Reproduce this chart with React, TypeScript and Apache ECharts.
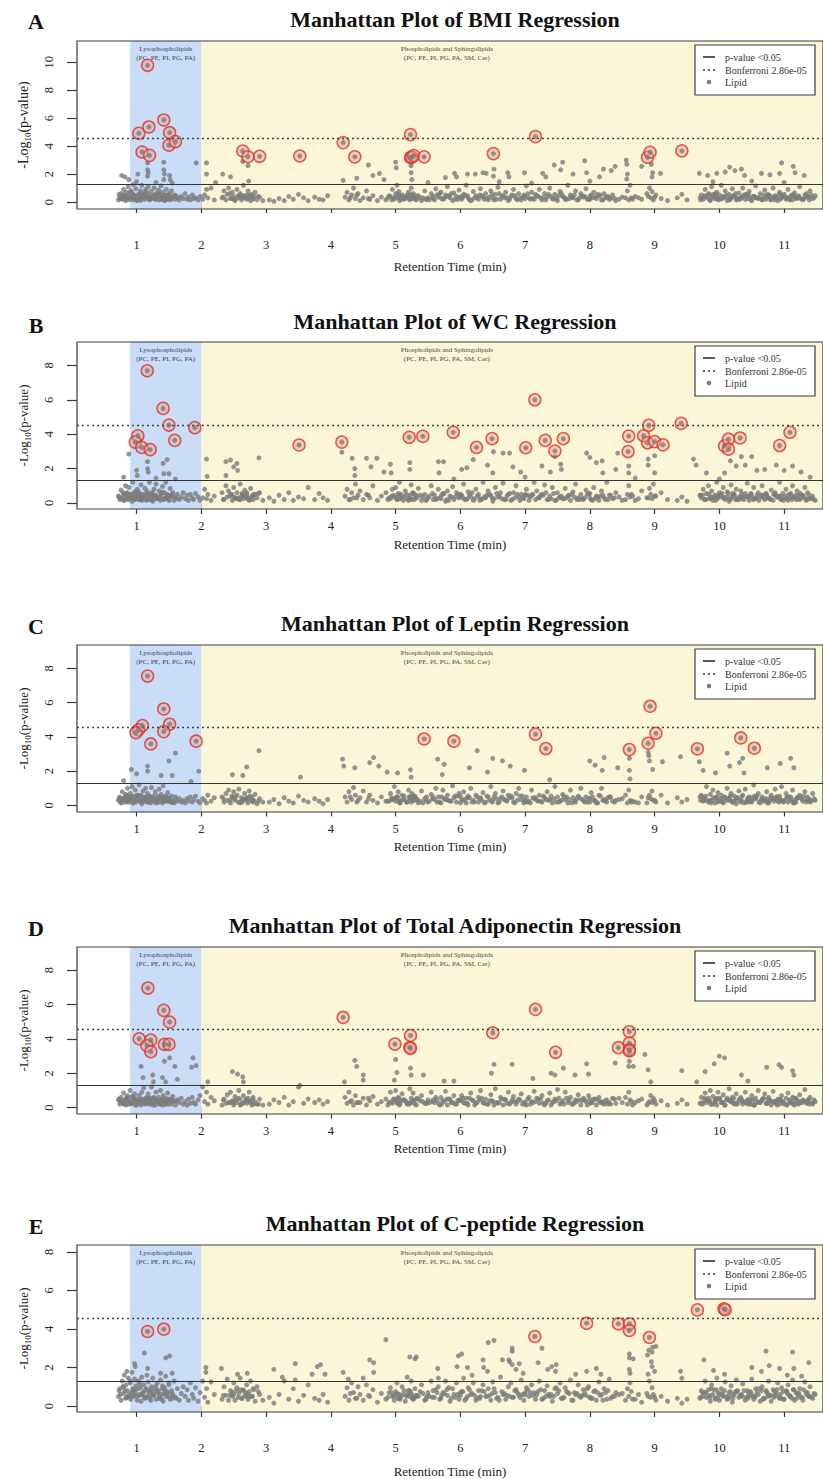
import React, { useEffect, useRef } from "react";
import * as echarts from "echarts";

// ---------- DATA ----------
const panelLetters = ["A", "B", "C", "D", "E"];
const panelTitles = [
  "Manhattan Plot of BMI Regression",
  "Manhattan Plot of WC Regression",
  "Manhattan Plot of Leptin Regression",
  "Manhattan Plot of Total Adiponectin Regression",
  "Manhattan Plot of C-peptide Regression",
];
const xTickValues = [1, 2, 3, 4, 5, 6, 7, 8, 9, 10, 11];
const yTickSets = [
  [0, 2, 4, 6, 8, 10],
  [0, 2, 4, 6, 8],
  [0, 2, 4, 6, 8],
  [0, 2, 4, 6, 8],
  [0, 2, 4, 6, 8],
];
const lysoRange = [0.9, 2.0];
const phosphoRange = [2.0, 11.6];
const pValueThreshold = 0.05;
const bonferroniThreshold = 2.86e-5;

// retention times (min) of the non-significant lipids in the dense low band
const retentionTimeLow = [
  0.72, 0.74, 0.76, 0.78, 0.8, 0.81, 0.83, 0.84, 0.86, 0.87,
  0.88, 0.9, 0.91, 0.93, 0.94, 0.95, 0.97, 0.98, 0.99, 1.01,
  1.03, 1.04, 1.06, 1.07, 1.08, 1.1, 1.11, 1.13, 1.14, 1.16,
  1.17, 1.18, 1.2, 1.22, 1.23, 1.25, 1.27, 1.29, 1.3, 1.32,
  1.34, 1.35, 1.37, 1.38, 1.4, 1.41, 1.43, 1.45, 1.46, 1.48,
  1.5, 1.52, 1.54, 1.56, 1.58, 1.6, 1.63, 1.66, 1.69, 1.72,
  1.75, 1.78, 1.8, 1.83, 1.86, 1.88, 1.91, 1.95, 1.98, 2.02,
  2.05, 2.08, 2.1, 2.15, 2.2, 2.32, 2.35, 2.38, 2.4, 2.42,
  2.45, 2.48, 2.5, 2.52, 2.55, 2.58, 2.6, 2.62, 2.65, 2.67,
  2.7, 2.72, 2.74, 2.76, 2.78, 2.8, 2.83, 2.86, 2.9, 2.95,
  3.05, 3.12, 3.2, 3.28, 3.35, 3.42, 3.5, 3.58, 3.65, 3.75,
  3.82, 3.88, 3.95, 4.22, 4.25, 4.28, 4.32, 4.35, 4.38, 4.42,
  4.45, 4.5, 4.55, 4.6, 4.65, 4.72, 4.78, 4.85, 4.92, 4.95,
  4.98, 5.0, 5.02, 5.04, 5.06, 5.1, 5.15, 5.2, 5.22, 5.24,
  5.25, 5.27, 5.3, 5.35, 5.4, 5.45, 5.5, 5.55, 5.6, 5.62,
  5.66, 5.7, 5.73, 5.77, 5.8, 5.84, 5.88, 5.9, 5.94, 5.98,
  6.02, 6.05, 6.09, 6.12, 6.16, 6.2, 6.24, 6.28, 6.31, 6.35,
  6.39, 6.43, 6.47, 6.5, 6.54, 6.58, 6.62, 6.66, 6.7, 6.74,
  6.78, 6.82, 6.86, 6.9, 6.94, 6.98, 7.02, 7.06, 7.1, 7.14,
  7.18, 7.22, 7.26, 7.3, 7.34, 7.38, 7.42, 7.46, 7.5, 7.54,
  7.58, 7.62, 7.66, 7.7, 7.74, 7.78, 7.82, 7.86, 7.9, 7.94,
  7.98, 8.02, 8.06, 8.1, 8.14, 8.18, 8.22, 8.26, 8.3, 8.35,
  8.4, 8.55, 8.58, 8.6, 8.62, 8.7, 8.8, 8.88, 8.92, 8.94,
  8.96, 8.98, 9.02, 9.1, 9.2, 9.35, 9.42, 9.5, 9.72, 9.75,
  9.78, 9.8, 9.83, 9.86, 9.88, 9.9, 9.93, 9.96, 9.98, 10.0,
  10.03, 10.06, 10.09, 10.12, 10.15, 10.18, 10.2, 10.23, 10.26, 10.3,
  10.33, 10.36, 10.4, 10.43, 10.46, 10.5, 10.53, 10.56, 10.6, 10.63,
  10.66, 10.7, 10.73, 10.76, 10.8, 10.83, 10.86, 10.9, 10.93, 10.96,
  11.0, 11.03, 11.06, 11.1, 11.13, 11.16, 11.2, 11.24, 11.28, 11.32,
  11.36, 11.4, 11.44, 11.48, 0.73, 0.79, 0.85, 0.92, 0.96, 1.02,
  1.09, 1.15, 1.21, 1.26, 1.33, 1.39, 1.44, 1.49, 1.55, 1.61,
  2.44, 2.53, 2.63, 2.69, 2.75, 2.81, 5.01, 5.05, 5.23, 5.28,
  9.74, 9.85, 9.95, 10.05, 10.14, 10.25, 10.35, 10.45, 10.55, 10.65,
  10.75, 10.85, 10.95, 11.05, 11.15, 11.25, 11.35, 6.0, 7.0, 8.0,
  5.57, 5.64, 5.71, 5.79, 5.86, 5.96, 6.04, 6.11, 6.18, 6.26,
  6.33, 6.41, 6.49, 6.56, 6.64, 6.72, 6.8, 6.88, 6.96, 7.04,
  7.12, 7.2, 7.28, 7.36, 7.44, 7.52, 7.6, 7.68, 7.76, 7.84,
  7.92, 8.0, 8.08, 8.16, 8.24, 8.32, 8.45, 8.64, 8.9, 9.0,
  9.7, 9.77, 9.84, 9.91, 9.97, 10.04, 10.11, 10.17, 10.22, 10.28,
  10.34, 10.41, 10.48, 10.52, 10.58, 10.68, 10.72, 10.78, 10.88, 10.92,
  10.98, 11.08, 11.12, 11.18, 11.22, 11.3, 11.38, 11.42, 11.46, 0.82,
  0.89, 0.97, 1.05, 1.12, 1.19, 1.24, 1.31, 1.36, 1.42, 1.47,
  2.34, 2.47, 2.57, 2.64, 2.71, 2.79, 2.88, 4.3, 4.4, 4.58,
  4.9, 4.97, 5.03, 5.08, 5.13, 5.18, 5.26, 5.33, 5.38, 5.48,
  0.75, 0.8, 0.85, 0.9, 0.95, 1.0, 1.05, 1.1, 1.15, 1.2,
  1.25, 1.3, 1.35, 1.4, 1.45, 1.5, 1.55, 2.5, 2.6, 2.7,
  5.52, 5.58, 5.68, 5.75, 5.82, 5.92, 6.0, 6.07, 6.14, 6.22,
  6.3, 6.37, 6.45, 6.52, 6.6, 6.68, 6.76, 6.84, 6.92, 7.0,
  7.08, 7.16, 7.24, 7.32, 7.4, 7.48, 7.56, 7.64, 7.72, 7.8,
  7.88, 7.96, 8.04, 8.12, 8.2, 8.28, 8.38, 8.5, 8.66, 8.75,
  9.71, 9.79, 9.87, 9.94, 10.01, 10.08, 10.16, 10.21, 10.27, 10.32,
  10.38, 10.44, 10.49, 10.54, 10.61, 10.67, 10.74, 10.79, 10.84, 10.89,
  10.94, 10.99, 11.04, 11.09, 11.14, 11.19, 11.23, 11.29, 11.34, 11.39,
  4.88, 4.94, 5.07, 5.12, 5.17, 5.21, 5.29, 5.32, 5.42, 5.47,
];

// -log10(p) of those lipids, one list per regression
const bmiLow = [
  0.15, 0.35, 0.6, 0.2, 0.9, 0.45, 0.1, 0.7, 0.3, 1.1,
  0.5, 0.15, 0.8, 0.35, 0.6, 1.25, 0.2, 0.45, 0.95, 0.1,
  0.55, 0.25, 0.8, 0.12, 1.2, 0.4, 0.65, 0.2, 0.9, 0.35,
  0.55, 1.1, 0.15, 0.75, 0.3, 0.5, 1.0, 0.2, 0.6, 0.35,
  0.85, 0.15, 0.5, 1.15, 0.3, 0.7, 0.1, 0.45, 0.9, 0.25,
  0.6, 0.15, 0.8, 0.35, 0.5, 0.2, 0.3, 0.15, 0.4, 0.25,
  0.6, 0.2, 0.35, 0.15, 0.5, 0.25, 0.3, 0.15, 0.4, 0.2,
  0.5, 0.9, 0.3, 1.0, 0.15, 0.3, 0.8, 0.15, 0.55, 1.0,
  0.25, 0.7, 0.4, 0.1, 0.9, 0.3, 0.6, 0.15, 1.2, 0.45,
  0.2, 0.8, 0.35, 0.1, 0.55, 0.25, 0.7, 0.15, 0.35, 0.1,
  0.15, 0.05, 0.25, 0.1, 0.4, 0.2, 0.55, 0.3, 0.1, 0.35,
  0.2, 0.15, 0.45, 0.35, 0.7, 0.15, 0.5, 1.0, 0.25, 0.6,
  0.1, 0.3, 0.8, 0.2, 0.45, 0.1, 0.35, 0.15, 0.4, 0.9,
  0.2, 0.6, 1.2, 0.3, 0.1, 0.5, 0.25, 0.7, 0.15, 1.0,
  0.4, 0.6, 0.2, 0.45, 0.1, 0.8, 0.3, 0.6, 0.15, 0.95,
  0.35, 0.7, 0.2, 0.5, 1.1, 0.3, 0.1, 0.65, 0.4, 0.85,
  0.2, 0.55, 1.2, 0.3, 0.1, 0.75, 0.45, 0.2, 0.95, 0.35,
  0.6, 0.15, 0.8, 0.3, 0.55, 1.05, 0.2, 0.45, 0.7, 0.1,
  0.4, 0.9, 0.25, 0.6, 0.15, 0.5, 1.15, 0.3, 0.7, 0.2,
  0.45, 0.9, 0.15, 0.6, 0.35, 1.0, 0.25, 0.55, 0.1, 0.75,
  0.4, 0.2, 1.2, 0.5, 0.3, 0.8, 0.15, 0.6, 0.35, 0.95,
  0.2, 0.5, 0.7, 0.25, 0.45, 0.15, 0.6, 0.35, 0.2, 0.5,
  0.1, 0.3, 0.8, 0.15, 1.2, 0.4, 0.2, 0.6, 1.0, 0.3,
  0.75, 0.15, 0.5, 0.25, 0.1, 0.3, 0.55, 0.15, 0.5, 0.2,
  0.9, 0.35, 0.6, 0.1, 1.1, 0.45, 0.25, 0.7, 0.15, 0.5,
  1.2, 0.3, 0.8, 0.1, 0.55, 0.25, 0.95, 0.4, 0.15, 0.65,
  0.3, 1.0, 0.2, 0.5, 0.75, 0.1, 0.4, 1.15, 0.25, 0.6,
  0.15, 0.85, 0.35, 0.5, 0.2, 1.0, 0.45, 0.1, 0.7, 0.3,
  0.55, 0.2, 0.9, 0.4, 0.15, 0.65, 0.3, 1.1, 0.2, 0.5,
  0.35, 0.8, 0.25, 0.45, 0.55, 0.25, 0.4, 0.7, 0.15, 0.3,
  0.45, 0.7, 0.25, 0.35, 0.6, 0.2, 0.5, 0.3, 0.25, 0.45,
  0.6, 0.2, 0.45, 0.3, 0.5, 0.4, 0.35, 0.75, 0.5, 0.3,
  0.3, 0.55, 0.25, 0.4, 0.2, 0.6, 0.35, 0.5, 0.3, 0.2,
  0.4, 0.15, 0.55, 0.3, 0.45, 0.25, 0.6, 0.35, 0.25, 0.4,
  0.3, 0.5, 0.25, 0.4, 0.6, 0.2, 0.35, 0.45, 0.15, 0.3,
  0.45, 0.25, 0.55, 0.2, 0.4, 0.3, 0.5, 0.15, 0.35, 0.6,
  0.25, 0.4, 0.3, 0.55, 0.2, 0.45, 0.35, 0.25, 0.5, 0.3,
  0.4, 0.2, 0.35, 0.5, 0.3, 0.25, 0.2, 0.3, 0.4, 0.35,
  0.3, 0.45, 0.2, 0.55, 0.35, 0.25, 0.5, 0.3, 0.4, 0.2,
  0.35, 0.55, 0.25, 0.4, 0.3, 0.5, 0.2, 0.45, 0.3, 0.55,
  0.4, 0.25, 0.5, 0.3, 0.45, 0.2, 0.35, 0.5, 0.3, 0.4,
  0.3, 0.45, 0.2, 0.55, 0.35, 0.25, 0.5, 0.4, 0.3, 0.2,
  0.35, 0.25, 0.45, 0.3, 0.5, 0.2, 0.4, 0.3, 0.5, 0.25,
  0.45, 0.3, 0.55, 0.2, 0.35, 0.5, 0.25, 0.4, 0.3, 0.2,
  0.25, 0.5, 0.2, 0.7, 0.35, 0.15, 0.6, 0.3, 0.45, 0.2,
  0.4, 0.2, 0.65, 0.3, 0.15, 0.5, 0.3, 0.2, 0.45, 0.3,
  0.15, 0.4, 0.6, 0.25, 0.45, 0.2, 0.35, 0.5, 0.15, 0.3,
  0.5, 0.2, 0.35, 0.15, 0.6, 0.3, 0.2, 0.45, 0.25, 0.4,
  0.2, 0.55, 0.3, 0.15, 0.4, 0.25, 0.6, 0.2, 0.35, 0.15,
  0.45, 0.2, 0.3, 0.55, 0.15, 0.4, 0.25, 0.35, 0.2, 0.3,
  0.15, 0.4, 0.25, 0.6, 0.2, 0.35, 0.15, 0.45, 0.3, 0.2,
  0.5, 0.25, 0.15, 0.4, 0.3, 0.2, 0.55, 0.15, 0.35, 0.25,
  0.2, 0.45, 0.3, 0.15, 0.5, 0.25, 0.35, 0.2, 0.4, 0.15,
  0.3, 0.15, 0.45, 0.2, 0.35, 0.25, 0.5, 0.15, 0.3, 0.2,
];
const wcLow = [
  0.4, 0.2, 0.75, 0.3, 0.55, 0.15, 1.0, 0.35, 0.6, 0.2,
  0.9, 0.3, 0.5, 0.1, 1.2, 0.4, 0.65, 0.25, 0.45, 0.8,
  0.2, 0.6, 0.35, 1.05, 0.15, 0.5, 0.3, 0.85, 0.25, 0.7,
  0.45, 0.2, 1.2, 0.35, 0.6, 0.1, 0.8, 0.4, 1.1, 0.25,
  0.3, 0.7, 0.15, 0.5, 0.95, 0.25, 0.6, 1.2, 0.35, 0.45,
  0.2, 0.85, 0.4, 0.6, 0.15, 0.3, 0.5, 0.2, 0.35, 0.6,
  0.25, 0.45, 0.15, 0.5, 0.3, 0.2, 0.55, 0.35, 0.15, 0.3,
  0.8, 0.25, 0.5, 0.15, 0.4, 0.6, 0.2, 1.0, 0.35, 0.7,
  0.5, 0.15, 0.9, 0.3, 0.6, 0.2, 1.1, 0.4, 0.25, 0.75,
  0.6, 0.3, 0.15, 0.85, 0.4, 0.2, 0.5, 0.3, 0.6, 0.15,
  0.3, 0.1, 0.45, 0.2, 0.6, 0.15, 0.35, 0.25, 0.9, 0.2,
  0.55, 0.3, 0.15, 0.4, 0.8, 0.2, 0.6, 0.3, 1.1, 0.45,
  0.7, 0.2, 0.5, 0.3, 1.0, 0.15, 0.4, 0.6, 0.25, 0.8,
  0.35, 0.9, 0.2, 0.55, 1.2, 0.3, 0.7, 0.15, 0.45, 1.05,
  0.2, 0.6, 0.35, 0.85, 0.15, 0.5, 0.3, 1.0, 0.45, 0.2,
  0.8, 0.25, 0.55, 0.1, 0.7, 0.4, 0.95, 0.2, 0.6, 0.3,
  0.45, 1.1, 0.2, 0.65, 0.35, 0.15, 0.8, 0.5, 0.25, 1.2,
  0.3, 0.7, 0.45, 0.1, 0.9, 0.35, 0.6, 1.15, 0.2, 0.5,
  0.15, 0.6, 1.0, 0.35, 0.5, 0.25, 0.8, 0.15, 0.45, 1.2,
  0.7, 0.3, 0.5, 1.05, 0.2, 0.4, 0.9, 0.15, 0.6, 0.35,
  0.25, 0.85, 0.4, 0.15, 0.65, 1.1, 0.3, 0.5, 0.2, 0.75,
  0.55, 0.2, 0.9, 0.4, 0.15, 0.7, 0.3, 1.2, 0.45, 0.25,
  0.6, 0.2, 0.5, 1.0, 0.35, 0.15, 0.7, 0.3, 0.85, 0.5,
  0.25, 1.1, 0.4, 0.6, 0.2, 0.15, 0.35, 0.1, 0.3, 0.8,
  0.2, 0.55, 1.0, 0.3, 0.7, 0.15, 0.45, 1.2, 0.35, 0.6,
  0.4, 0.9, 0.2, 0.65, 0.1, 1.05, 0.35, 0.5, 0.8, 0.2,
  0.7, 0.3, 0.55, 1.15, 0.15, 0.4, 0.9, 0.25, 0.6, 0.35,
  1.0, 0.2, 0.5, 0.3, 0.75, 0.15, 0.6, 0.4, 1.2, 0.25,
  0.35, 0.8, 0.15, 0.55, 1.0, 0.3, 0.7, 0.2, 0.45, 0.9,
  0.6, 0.25, 0.4, 0.15, 0.35, 0.6, 0.25, 0.5, 0.3, 0.45,
  0.35, 0.55, 0.2, 0.45, 0.3, 0.6, 0.25, 0.4, 0.5, 0.3,
  0.4, 0.25, 0.55, 0.35, 0.2, 0.5, 0.3, 0.45, 0.25, 0.55,
  0.45, 0.25, 0.4, 0.3, 0.55, 0.2, 0.5, 0.35, 0.25, 0.45,
  0.3, 0.5, 0.2, 0.45, 0.35, 0.55, 0.25, 0.4, 0.5, 0.3,
  0.55, 0.25, 0.45, 0.2, 0.35, 0.5, 0.3, 0.25, 0.6, 0.4,
  0.2, 0.45, 0.3, 0.55, 0.25, 0.4, 0.2, 0.5, 0.3, 0.45,
  0.5, 0.3, 0.45, 0.2, 0.55, 0.3, 0.25, 0.45, 0.35, 0.2,
  0.3, 0.55, 0.25, 0.4, 0.2, 0.45, 0.35, 0.5, 0.3, 0.4,
  0.45, 0.2, 0.5, 0.3, 0.25, 0.55, 0.35, 0.2, 0.45, 0.3,
  0.25, 0.4, 0.5, 0.2, 0.45, 0.3, 0.55, 0.25, 0.4, 0.35,
  0.55, 0.3, 0.2, 0.45, 0.25, 0.4, 0.5, 0.3, 0.2, 0.45,
  0.4, 0.2, 0.5, 0.3, 0.45, 0.55, 0.25, 0.35, 0.2, 0.5,
  0.2, 0.5, 0.3, 0.45, 0.25, 0.4, 0.55, 0.2, 0.3, 0.45,
  0.3, 0.45, 0.2, 0.5, 0.4, 0.25, 0.55, 0.3, 0.45, 0.2,
  0.3, 0.15, 0.55, 0.25, 0.4, 0.65, 0.2, 0.35, 0.15, 0.5,
  0.2, 0.45, 0.3, 0.6, 0.25, 0.15, 0.4, 0.35, 0.2, 0.5,
  0.4, 0.2, 0.3, 0.55, 0.15, 0.35, 0.5, 0.2, 0.45, 0.25,
  0.15, 0.35, 0.5, 0.25, 0.4, 0.2, 0.55, 0.3, 0.15, 0.45,
  0.35, 0.2, 0.45, 0.6, 0.25, 0.15, 0.4, 0.3, 0.5, 0.2,
  0.25, 0.5, 0.15, 0.35, 0.45, 0.2, 0.3, 0.15, 0.4, 0.25,
  0.45, 0.2, 0.35, 0.15, 0.5, 0.3, 0.25, 0.55, 0.2, 0.4,
  0.2, 0.35, 0.55, 0.25, 0.15, 0.45, 0.3, 0.2, 0.5, 0.35,
  0.4, 0.15, 0.25, 0.5, 0.35, 0.2, 0.45, 0.3, 0.15, 0.25,
  0.2, 0.4, 0.25, 0.15, 0.5, 0.3, 0.2, 0.45, 0.35, 0.15,
];
const leptinLow = [
  0.3, 0.5, 0.15, 0.8, 0.4, 0.2, 0.65, 0.3, 1.0, 0.45,
  0.2, 0.7, 0.35, 1.1, 0.15, 0.55, 0.3, 0.9, 0.2, 0.6,
  0.4, 1.2, 0.25, 0.6, 0.1, 0.85, 0.35, 0.5, 1.0, 0.2,
  0.7, 0.3, 0.5, 0.15, 1.05, 0.4, 0.25, 0.8, 0.35, 0.55,
  0.2, 0.95, 0.4, 0.65, 0.15, 1.15, 0.3, 0.5, 0.25, 0.75,
  0.4, 0.2, 0.55, 0.3, 0.15, 0.5, 0.25, 0.4, 0.2, 0.3,
  0.15, 0.4, 0.25, 0.5, 0.2, 0.35, 0.55, 0.25, 0.15, 0.4,
  0.3, 0.15, 0.6, 0.25, 0.45, 0.5, 0.2, 0.7, 0.3, 0.9,
  0.15, 0.5, 0.8, 0.3, 0.6, 0.95, 0.2, 0.45, 0.35, 0.7,
  0.4, 0.15, 0.85, 0.3, 0.5, 0.2, 0.65, 0.1, 0.4, 0.2,
  0.2, 0.35, 0.1, 0.45, 0.25, 0.15, 0.55, 0.3, 0.2, 0.4,
  0.25, 0.1, 0.35, 0.5, 0.2, 0.8, 0.35, 1.05, 0.6, 0.3,
  0.45, 0.85, 0.2, 0.6, 0.3, 0.15, 0.5, 0.25, 0.7, 0.35,
  1.1, 0.25, 0.5, 0.8, 0.15, 0.6, 0.3, 0.9, 0.45, 0.2,
  0.7, 0.3, 0.55, 0.15, 0.85, 0.4, 0.2, 0.65, 0.35, 1.0,
  0.5, 0.15, 0.9, 0.35, 0.6, 0.25, 1.15, 0.45, 0.2, 0.7,
  0.35, 0.8, 0.15, 0.55, 1.0, 0.3, 0.6, 0.2, 0.45, 0.75,
  0.2, 0.5, 1.1, 0.3, 0.7, 0.15, 0.4, 0.85, 0.3, 0.6,
  0.55, 0.2, 0.7, 1.0, 0.35, 0.15, 0.5, 0.25, 0.9, 0.4,
  0.3, 0.6, 0.2, 0.45, 0.8, 0.35, 0.15, 1.1, 0.5, 0.25,
  0.65, 0.35, 0.15, 0.9, 0.45, 0.2, 0.55, 1.0, 0.3, 0.5,
  0.4, 0.75, 0.3, 0.15, 0.6, 1.0, 0.35, 0.2, 0.5, 0.25,
  0.3, 0.6, 0.15, 0.9, 0.3, 0.2, 0.5, 0.15, 0.6, 0.4,
  0.85, 0.3, 0.2, 0.6, 0.15, 0.45, 0.2, 0.35, 0.6, 0.25,
  0.4, 1.1, 0.2, 0.65, 0.3, 0.9, 0.15, 0.5, 0.75, 0.35,
  0.6, 0.15, 0.45, 1.0, 0.3, 0.7, 0.2, 0.55, 0.1, 0.85,
  0.2, 0.6, 0.95, 0.35, 0.5, 0.2, 1.2, 0.4, 0.7, 0.15,
  0.5, 0.3, 0.8, 0.15, 0.6, 0.4, 0.95, 0.25, 0.55, 1.1,
  0.3, 0.7, 0.2, 0.5, 0.9, 0.15, 0.45, 0.6, 0.35, 0.8,
  0.5, 0.2, 0.7, 0.3, 0.4, 0.35, 0.2, 0.55, 0.3, 0.6,
  0.25, 0.45, 0.35, 0.55, 0.2, 0.5, 0.3, 0.45, 0.2, 0.35,
  0.3, 0.5, 0.2, 0.4, 0.55, 0.3, 0.45, 0.25, 0.4, 0.55,
  0.5, 0.3, 0.45, 0.2, 0.4, 0.3, 0.55, 0.2, 0.45, 0.35,
  0.25, 0.4, 0.3, 0.5, 0.2, 0.45, 0.35, 0.55, 0.3, 0.2,
  0.4, 0.2, 0.5, 0.35, 0.25, 0.55, 0.3, 0.45, 0.2, 0.5,
  0.3, 0.55, 0.2, 0.4, 0.5, 0.25, 0.45, 0.3, 0.55, 0.2,
  0.45, 0.25, 0.55, 0.3, 0.4, 0.2, 0.5, 0.35, 0.25, 0.45,
  0.2, 0.4, 0.3, 0.55, 0.25, 0.5, 0.35, 0.2, 0.45, 0.3,
  0.5, 0.3, 0.25, 0.45, 0.2, 0.4, 0.3, 0.55, 0.25, 0.45,
  0.3, 0.2, 0.45, 0.35, 0.55, 0.25, 0.4, 0.3, 0.5, 0.2,
  0.25, 0.5, 0.35, 0.2, 0.45, 0.55, 0.3, 0.25, 0.4, 0.5,
  0.45, 0.3, 0.55, 0.25, 0.2, 0.4, 0.35, 0.5, 0.3, 0.25,
  0.4, 0.55, 0.2, 0.35, 0.45, 0.3, 0.25, 0.5, 0.2, 0.4,
  0.25, 0.35, 0.5, 0.3, 0.55, 0.2, 0.45, 0.35, 0.25, 0.5,
  0.2, 0.4, 0.6, 0.3, 0.15, 0.5, 0.25, 0.45, 0.35, 0.55,
  0.35, 0.15, 0.4, 0.25, 0.55, 0.3, 0.2, 0.4, 0.15, 0.3,
  0.25, 0.5, 0.2, 0.4, 0.3, 0.55, 0.15, 0.35, 0.45, 0.2,
  0.4, 0.15, 0.3, 0.5, 0.2, 0.35, 0.45, 0.15, 0.55, 0.25,
  0.15, 0.45, 0.25, 0.35, 0.55, 0.2, 0.3, 0.5, 0.15, 0.4,
  0.35, 0.2, 0.5, 0.15, 0.3, 0.45, 0.2, 0.4, 0.25, 0.15,
  0.3, 0.55, 0.15, 0.4, 0.25, 0.5, 0.35, 0.2, 0.45, 0.3,
  0.15, 0.4, 0.3, 0.55, 0.2, 0.35, 0.15, 0.45, 0.25, 0.5,
  0.35, 0.2, 0.45, 0.3, 0.15, 0.4, 0.5, 0.25, 0.2, 0.35,
  0.25, 0.45, 0.15, 0.35, 0.2, 0.5, 0.3, 0.4, 0.15, 0.3,
];
const adiponectinLow = [
  0.45, 0.2, 0.6, 0.3, 0.85, 0.25, 0.5, 0.15, 0.7, 0.35,
  0.55, 1.0, 0.25, 0.65, 0.3, 0.45, 0.8, 0.15, 0.5, 0.35,
  0.25, 0.7, 0.45, 0.15, 0.9, 0.3, 1.15, 0.5, 0.2, 0.6,
  0.35, 0.8, 0.2, 0.55, 1.2, 0.3, 0.6, 0.15, 0.9, 0.4,
  0.6, 0.25, 1.0, 0.4, 0.15, 0.7, 0.35, 0.55, 0.2, 0.85,
  0.3, 0.5, 0.2, 0.65, 0.35, 0.15, 0.45, 0.3, 0.55, 0.2,
  0.35, 0.15, 0.5, 0.25, 0.6, 0.3, 0.2, 0.45, 0.7, 1.2,
  0.35, 0.9, 0.2, 0.6, 0.4, 0.15, 0.5, 0.25, 0.75, 0.3,
  0.9, 0.4, 0.15, 0.65, 0.3, 1.0, 0.5, 0.2, 0.7, 0.35,
  0.25, 0.55, 0.9, 0.3, 0.15, 0.6, 0.35, 0.2, 0.5, 0.15,
  0.2, 0.45, 0.3, 0.6, 0.15, 0.35, 1.2, 0.25, 0.5, 0.3,
  0.45, 0.2, 0.35, 0.6, 0.25, 0.9, 0.4, 0.15, 0.7, 0.3,
  0.3, 0.55, 0.15, 0.4, 0.65, 0.2, 0.35, 0.5, 0.9, 0.25,
  0.5, 1.0, 0.3, 0.6, 0.15, 0.8, 0.4, 0.25, 1.1, 0.55,
  0.3, 0.85, 0.2, 0.5, 0.7, 0.25, 0.45, 0.9, 0.3, 0.6,
  0.25, 0.6, 0.4, 0.95, 0.15, 0.5, 0.3, 0.7, 0.2, 0.45,
  0.7, 0.3, 0.55, 0.15, 0.85, 0.4, 0.25, 0.6, 1.0, 0.3,
  0.5, 0.2, 0.75, 0.35, 1.1, 0.25, 0.6, 0.15, 0.45, 0.9,
  0.3, 0.65, 0.2, 0.5, 0.8, 0.3, 0.15, 0.6, 0.35, 0.95,
  0.55, 0.25, 0.7, 0.15, 0.4, 0.85, 0.3, 0.5, 1.05, 0.2,
  0.4, 0.9, 0.3, 0.6, 0.2, 0.45, 0.75, 0.15, 0.55, 0.35,
  0.7, 0.3, 0.5, 0.15, 0.6, 0.35, 0.2, 0.45, 0.3, 0.55,
  0.25, 0.6, 0.2, 0.9, 0.45, 0.3, 0.5, 0.15, 0.35, 0.7,
  0.3, 0.55, 0.2, 0.4, 0.15, 0.25, 0.45, 0.2, 0.6, 0.3,
  0.85, 0.3, 0.55, 1.0, 0.2, 0.65, 0.4, 0.15, 0.9, 0.5,
  0.3, 0.75, 0.15, 0.55, 1.1, 0.35, 0.6, 0.2, 0.8, 0.45,
  0.6, 0.2, 0.9, 0.4, 0.25, 0.7, 0.15, 0.55, 1.0, 0.3,
  0.45, 0.8, 0.25, 0.6, 0.15, 0.95, 0.35, 0.5, 0.2, 0.7,
  0.2, 0.55, 0.85, 0.3, 0.6, 0.15, 0.45, 0.75, 0.3, 1.05,
  0.4, 0.6, 0.2, 0.35, 0.5, 0.4, 0.6, 0.25, 0.5, 0.35,
  0.5, 0.25, 0.4, 0.55, 0.3, 0.45, 0.2, 0.5, 0.35, 0.4,
  0.3, 0.45, 0.25, 0.5, 0.35, 0.2, 0.4, 0.55, 0.3, 0.45,
  0.2, 0.4, 0.55, 0.3, 0.45, 0.25, 0.35, 0.5, 0.2, 0.4,
  0.5, 0.3, 0.4, 0.2, 0.55, 0.35, 0.25, 0.45, 0.3, 0.5,
  0.35, 0.45, 0.2, 0.5, 0.3, 0.4, 0.55, 0.25, 0.45, 0.3,
  0.55, 0.2, 0.4, 0.3, 0.5, 0.25, 0.45, 0.35, 0.2, 0.5,
  0.3, 0.5, 0.25, 0.45, 0.35, 0.55, 0.2, 0.4, 0.3, 0.45,
  0.45, 0.25, 0.5, 0.3, 0.4, 0.2, 0.55, 0.35, 0.25, 0.4,
  0.25, 0.55, 0.35, 0.2, 0.5, 0.3, 0.45, 0.4, 0.55, 0.25,
  0.5, 0.3, 0.2, 0.45, 0.35, 0.55, 0.25, 0.4, 0.3, 0.45,
  0.35, 0.45, 0.3, 0.55, 0.2, 0.4, 0.5, 0.25, 0.45, 0.3,
  0.2, 0.5, 0.35, 0.4, 0.55, 0.3, 0.45, 0.2, 0.5, 0.35,
  0.45, 0.3, 0.55, 0.25, 0.4, 0.5, 0.2, 0.35, 0.3, 0.55,
  0.3, 0.5, 0.25, 0.4, 0.45, 0.2, 0.35, 0.55, 0.4, 0.25,
  0.35, 0.2, 0.5, 0.3, 0.6, 0.15, 0.45, 0.25, 0.55, 0.3,
  0.15, 0.4, 0.25, 0.5, 0.35, 0.2, 0.45, 0.3, 0.15, 0.4,
  0.3, 0.45, 0.15, 0.35, 0.5, 0.2, 0.4, 0.25, 0.55, 0.15,
  0.45, 0.25, 0.4, 0.15, 0.3, 0.5, 0.2, 0.35, 0.45, 0.2,
  0.2, 0.35, 0.5, 0.25, 0.15, 0.4, 0.3, 0.55, 0.2, 0.35,
  0.4, 0.15, 0.3, 0.45, 0.25, 0.2, 0.5, 0.3, 0.15, 0.4,
  0.25, 0.45, 0.2, 0.35, 0.55, 0.15, 0.4, 0.3, 0.2, 0.5,
  0.35, 0.2, 0.45, 0.15, 0.3, 0.5, 0.25, 0.4, 0.35, 0.15,
  0.5, 0.3, 0.15, 0.4, 0.2, 0.35, 0.25, 0.45, 0.3, 0.2,
  0.15, 0.35, 0.25, 0.45, 0.3, 0.2, 0.4, 0.15, 0.35, 0.25,
];
const cPeptideLow = [
  0.5, 0.9, 0.3, 1.3, 0.65, 1.6, 0.4, 1.1, 0.8, 1.45,
  0.6, 1.2, 0.35, 1.75, 0.9, 0.5, 1.4, 0.7, 1.05, 0.3,
  1.3, 0.55, 0.95, 0.25, 1.5, 0.7, 1.1, 0.4, 0.85, 1.6,
  0.5, 1.25, 0.75, 0.3, 1.0, 1.45, 0.6, 0.9, 0.35, 1.2,
  0.8, 0.4, 1.35, 0.6, 1.05, 0.25, 0.95, 1.55, 0.5, 0.7,
  1.1, 0.35, 0.8, 0.55, 1.3, 0.45, 0.9, 0.3, 0.65, 1.0,
  0.5, 0.85, 0.3, 1.2, 0.6, 0.4, 0.95, 0.25, 0.7, 1.3,
  0.45, 0.9, 0.2, 1.25, 0.6, 0.35, 1.0, 0.55, 1.4, 0.3,
  0.8, 0.5, 1.2, 0.3, 0.95, 0.65, 1.45, 0.4, 0.85, 0.55,
  1.1, 0.35, 0.75, 1.3, 0.5, 0.9, 0.25, 1.0, 0.6, 0.3,
  0.45, 0.15, 0.6, 1.3, 0.35, 0.9, 0.25, 0.55, 1.1, 0.4,
  0.3, 0.6, 0.2, 0.5, 0.95, 0.3, 1.2, 0.7, 0.4, 1.0,
  0.6, 0.3, 1.1, 0.5, 0.85, 0.2, 0.65, 0.35, 0.95, 0.5,
  0.3, 0.75, 1.2, 0.4, 0.6, 1.0, 0.25, 0.8, 0.5, 1.3,
  0.6, 0.35, 0.9, 0.5, 1.1, 0.3, 0.7, 1.3, 0.45, 0.85,
  1.0, 0.4, 0.7, 1.3, 0.55, 0.25, 0.9, 0.6, 1.2, 0.35,
  0.75, 1.45, 0.4, 0.95, 0.6, 1.2, 0.3, 0.8, 0.5, 1.1,
  0.5, 0.9, 0.3, 1.25, 0.7, 0.45, 1.5, 0.6, 0.35, 1.0,
  1.2, 0.45, 0.85, 0.6, 1.35, 0.3, 0.95, 0.5, 1.1, 0.7,
  0.6, 1.3, 0.35, 0.8, 1.05, 0.5, 0.25, 0.9, 0.65, 1.2,
  0.4, 0.95, 0.7, 1.35, 0.3, 0.6, 1.1, 0.45, 0.85, 0.55,
  1.0, 0.4, 0.75, 0.3, 1.25, 0.6, 0.9, 0.35, 1.4, 0.5,
  0.7, 0.3, 0.9, 0.5, 1.2, 0.35, 0.2, 0.65, 1.3, 0.45,
  0.95, 0.6, 0.3, 0.5, 0.25, 0.4, 0.15, 0.35, 0.8, 0.5,
  1.3, 0.45, 0.85, 0.25, 1.1, 0.6, 0.4, 1.45, 0.7, 0.3,
  0.9, 0.5, 1.25, 0.35, 0.7, 1.05, 0.2, 0.6, 1.35, 0.45,
  0.55, 1.15, 0.3, 0.8, 0.5, 1.4, 0.35, 0.9, 0.6, 0.25,
  1.0, 0.4, 0.7, 1.3, 0.25, 0.85, 0.55, 1.2, 0.4, 0.95,
  0.35, 0.8, 1.1, 0.5, 1.35, 0.3, 0.65, 0.9, 0.45, 1.25,
  0.7, 1.0, 0.4, 0.6, 0.8, 1.0, 0.45, 0.7, 0.55, 0.9,
  0.6, 0.45, 0.85, 0.55, 0.7, 0.35, 0.8, 0.5, 0.65, 0.4,
  0.55, 0.8, 0.4, 0.7, 0.5, 0.85, 0.6, 0.4, 0.75, 0.5,
  0.7, 0.45, 0.85, 0.55, 0.4, 0.75, 0.5, 0.65, 0.45, 0.8,
  0.5, 0.75, 0.4, 0.65, 0.85, 0.45, 0.6, 0.55, 0.7, 0.45,
  0.45, 0.7, 0.55, 0.85, 0.4, 0.6, 0.75, 0.5, 0.65, 0.4,
  0.8, 0.5, 0.65, 0.4, 0.75, 0.55, 0.45, 0.7, 0.6, 0.85,
  0.55, 0.75, 0.4, 0.6, 0.5, 0.8, 0.45, 0.65, 0.7, 0.5,
  0.65, 0.45, 0.8, 0.55, 0.7, 0.4, 0.6, 0.75, 0.5, 0.45,
  0.4, 0.7, 0.55, 0.85, 0.45, 0.65, 0.5, 0.75, 0.6, 0.8,
  0.6, 0.45, 0.75, 0.5, 0.7, 0.4, 0.8, 0.55, 0.65, 0.45,
  0.75, 0.55, 0.4, 0.7, 0.6, 0.85, 0.5, 0.45, 0.65, 0.8,
  0.5, 0.85, 0.6, 0.45, 0.7, 0.55, 0.8, 0.4, 0.65, 0.75,
  0.55, 0.7, 0.45, 0.8, 0.6, 0.5, 0.75, 0.65, 0.4, 0.55,
  0.7, 0.5, 0.65, 0.45, 0.8, 0.6, 0.4, 0.55, 0.75, 0.5,
  0.6, 1.0, 0.45, 1.3, 0.8, 0.5, 1.15, 0.7, 0.9, 0.4,
  0.75, 1.05, 0.5, 0.9, 0.65, 1.2, 0.4, 0.6, 0.85, 0.5,
  0.5, 0.8, 0.35, 0.65, 0.95, 0.45, 0.7, 0.3, 0.85, 0.55,
  0.4, 0.75, 0.55, 0.9, 0.3, 0.65, 0.5, 0.8, 0.45, 0.6,
  0.7, 0.35, 0.85, 0.5, 0.6, 0.95, 0.4, 0.75, 0.3, 0.65,
  0.55, 0.9, 0.4, 0.7, 0.3, 0.8, 0.5, 0.65, 0.35, 0.6,
  0.45, 0.7, 0.9, 0.35, 0.6, 0.8, 0.5, 0.4, 0.75, 0.55,
  0.8, 0.4, 0.65, 0.5, 0.9, 0.35, 0.7, 0.55, 0.45, 0.85,
  0.6, 0.35, 0.75, 0.5, 0.85, 0.4, 0.65, 0.3, 0.7, 0.5,
  0.45, 0.7, 0.35, 0.6, 0.5, 0.8, 0.4, 0.55, 0.65, 0.35,
];

// non-significant lipids above the dense band: [retention time, -log10 p]
const bmiRaised = [
  [0.77, 1.9], [0.82, 1.8], [0.88, 1.6], [1.0, 1.45], [1.02, 2.0], [1.17, 2.8], [1.17, 2.3], [1.18, 2.1],
  [1.17, 1.85], [1.3, 1.4], [1.42, 2.85], [1.42, 2.3], [1.43, 2.0], [1.42, 1.6], [1.51, 1.9], [1.52, 1.6],
  [1.55, 1.35], [1.92, 2.8], [2.08, 2.8], [2.08, 2.0], [2.22, 1.4], [2.33, 2.0], [2.45, 1.8], [2.64, 2.9],
  [2.72, 2.6], [2.73, 1.5], [4.19, 1.55], [4.4, 1.7], [4.58, 2.65], [4.65, 1.9], [4.75, 2.05], [4.82, 1.6],
  [5.0, 2.85], [5.01, 2.45], [5.24, 2.6], [5.24, 2.1], [5.25, 1.6], [5.5, 1.4], [5.77, 1.75], [5.91, 2.05],
  [5.94, 1.8], [6.11, 2.0], [6.23, 2.0], [6.35, 2.1], [6.4, 2.05], [6.52, 2.35], [6.51, 1.85], [6.6, 1.45],
  [6.73, 2.1], [6.75, 1.8], [6.99, 2.1], [7.1, 1.35], [7.27, 2.05], [7.32, 1.8], [7.45, 2.65], [7.58, 2.85],
  [7.55, 2.3], [7.74, 2.0], [7.92, 2.95], [7.95, 2.1], [8.0, 1.5], [8.15, 1.8], [8.21, 2.35], [8.33, 2.25],
  [8.39, 2.55], [8.56, 3.0], [8.57, 2.7], [8.58, 2.0], [8.57, 1.65], [8.8, 2.55], [8.95, 2.7], [8.97, 2.1],
  [8.96, 1.8], [9.09, 2.05], [9.69, 2.05], [9.82, 1.9], [9.9, 1.45], [9.96, 2.05], [10.09, 2.15], [10.16, 2.5],
  [10.24, 2.25], [10.34, 2.35], [10.39, 1.9], [10.5, 1.5], [10.65, 2.05], [10.78, 1.95], [10.96, 2.8],
  [10.93, 2.05], [11.0, 1.4], [11.14, 2.55], [11.17, 2.1], [11.31, 1.9],
];
const wcRaised = [
  [0.8, 1.5], [0.88, 2.85], [1.0, 1.9], [1.01, 1.6], [1.17, 2.4], [1.17, 2.0], [1.18, 1.8], [1.3, 1.45],
  [1.41, 2.3], [1.42, 1.7], [1.47, 2.52], [1.5, 1.7], [1.6, 1.4], [2.08, 2.55], [2.09, 1.55], [2.38, 2.4],
  [2.38, 1.6], [2.45, 2.5], [2.5, 2.1], [2.55, 2.3], [2.56, 1.9], [2.89, 2.62], [4.17, 2.95], [4.33, 2.6],
  [4.37, 2.0], [4.37, 1.6], [4.55, 2.6], [4.62, 2.1], [4.71, 2.6], [4.82, 1.8], [4.92, 2.25], [4.93, 1.75],
  [5.22, 2.35], [5.22, 1.95], [5.66, 2.4], [5.74, 2.4], [5.67, 1.75], [5.9, 1.4], [6.02, 1.95], [6.1, 2.05],
  [6.2, 2.52], [6.42, 2.2], [6.51, 2.98], [6.5, 1.75], [6.66, 2.9], [6.76, 2.9], [6.81, 2.1], [6.93, 1.8],
  [7.0, 1.5], [7.26, 2.15], [7.39, 1.8], [7.46, 2.7], [7.55, 2.25], [7.56, 1.95], [7.95, 2.9], [8.0, 2.65],
  [8.1, 2.35], [8.19, 2.45], [8.2, 1.75], [8.4, 1.95], [8.43, 2.9], [8.6, 2.15], [8.6, 1.75], [8.7, 1.45],
  [8.9, 2.55], [8.9, 2.2], [9.0, 2.75], [9.0, 1.75], [9.6, 2.55], [9.64, 2.2], [9.8, 1.75], [10.0, 1.4],
  [10.08, 1.75], [10.17, 2.45], [10.26, 2.15], [10.34, 2.7], [10.4, 2.2], [10.5, 2.7], [10.58, 1.9],
  [10.7, 1.95], [10.88, 2.2], [11.0, 1.9], [11.13, 2.15], [11.26, 1.8], [11.4, 1.5],
];
const leptinRaised = [
  [0.8, 1.45], [0.92, 2.1], [1.0, 1.85], [1.17, 2.3], [1.17, 2.0], [1.38, 1.75], [1.5, 2.6], [1.55, 1.75],
  [1.6, 3.05], [1.84, 1.4], [1.96, 2.0], [2.48, 1.8], [2.64, 1.75], [2.7, 2.25], [2.89, 3.2], [3.53, 1.65],
  [4.18, 2.7], [4.2, 2.3], [4.37, 2.2], [4.6, 2.5], [4.66, 2.8], [4.74, 2.3], [4.87, 1.95], [5.03, 1.9],
  [5.23, 2.08], [5.24, 1.65], [5.65, 2.7], [5.75, 2.4], [5.72, 1.8], [6.14, 2.2], [6.26, 3.2], [6.42, 1.95],
  [6.5, 2.75], [6.65, 2.6], [6.77, 2.3], [6.99, 2.05], [7.38, 1.5], [8.0, 2.6], [8.08, 2.35], [8.19, 2.05],
  [8.22, 2.8], [8.43, 2.2], [8.61, 2.75], [8.61, 2.05], [8.62, 1.55], [8.9, 3.1], [8.91, 2.9], [8.92, 2.6],
  [8.97, 2.1], [9.12, 2.55], [9.4, 2.85], [9.69, 2.55], [9.75, 2.05], [9.94, 1.9], [10.12, 3.05],
  [10.16, 2.3], [10.31, 2.5], [10.36, 2.75], [10.38, 1.9], [10.74, 2.2], [10.94, 2.45], [11.1, 2.75],
  [11.15, 2.2],
];
const adiponectinRaised = [
  [1.07, 2.4], [1.1, 1.75], [1.25, 1.9], [1.26, 1.5], [1.4, 1.75], [1.43, 2.7], [1.45, 1.5], [1.51, 2.9],
  [1.59, 2.4], [1.63, 1.65], [1.85, 2.35], [1.87, 2.9], [1.92, 2.45], [2.1, 1.5], [2.48, 2.1], [2.56, 1.95],
  [2.64, 1.8], [2.65, 1.5], [3.52, 1.3], [4.21, 1.5], [4.37, 2.75], [4.4, 2.4], [4.5, 1.9], [4.5, 1.6],
  [4.98, 1.6], [5.0, 2.8], [5.02, 2.05], [5.23, 2.3], [5.24, 1.9], [5.43, 1.9], [5.75, 1.55], [5.9, 1.55],
  [6.48, 2.0], [6.52, 2.52], [6.8, 2.52], [7.12, 1.7], [7.4, 2.0], [7.46, 1.9], [7.59, 2.3], [7.77, 1.9],
  [7.95, 2.55], [7.98, 1.95], [8.39, 2.6], [8.6, 2.4], [8.61, 3.1], [8.61, 2.7], [8.67, 2.4], [8.85, 3.1],
  [8.9, 2.2], [8.94, 1.5], [9.42, 2.15], [9.65, 1.5], [9.78, 2.1], [9.92, 2.55], [10.0, 3.0], [10.08, 2.9],
  [10.34, 1.9], [10.44, 1.55], [10.73, 2.35], [10.92, 2.5], [10.96, 2.35], [11.13, 2.15], [11.15, 1.9],
];
const cPeptideRaised = [
  [0.85, 1.8], [0.97, 2.2], [0.98, 2.05], [1.12, 2.75], [1.17, 1.95], [1.37, 1.7], [1.45, 2.5], [1.51, 2.6],
  [1.55, 1.7], [2.07, 2.0], [2.07, 1.75], [2.31, 1.95], [2.56, 1.65], [2.71, 1.7], [3.12, 1.9], [3.25, 1.5],
  [3.45, 2.2], [3.45, 1.35], [3.71, 1.65], [3.79, 2.05], [3.84, 2.15], [3.91, 1.65], [4.19, 1.75],
  [4.27, 1.4], [4.5, 1.45], [4.6, 2.4], [4.66, 2.25], [4.66, 1.75], [4.85, 3.44], [5.18, 1.5], [5.22, 2.55],
  [5.3, 2.45], [5.32, 2.55], [5.65, 1.95], [5.66, 1.45], [5.95, 2.05], [5.97, 2.6], [6.02, 2.7], [6.11, 2.0],
  [6.18, 1.6], [6.35, 2.4], [6.36, 2.0], [6.42, 1.8], [6.43, 3.3], [6.52, 3.4], [6.65, 2.4], [6.75, 2.4],
  [6.76, 2.3], [6.8, 3.0], [6.8, 2.85], [6.8, 2.15], [6.86, 1.9], [6.91, 2.2], [6.97, 1.7], [7.2, 2.25],
  [7.26, 3.0], [7.35, 1.9], [7.41, 2.05], [7.47, 1.8], [7.48, 2.15], [7.78, 1.65], [7.95, 1.8], [8.1, 1.95],
  [8.17, 1.65], [8.61, 2.7], [8.61, 2.5], [8.67, 2.45], [8.61, 1.9], [8.62, 1.7], [8.89, 2.65], [8.9, 1.65],
  [8.91, 2.9], [8.95, 2.3], [8.96, 2.8], [8.96, 2.05], [8.97, 3.05], [9.0, 1.8], [9.02, 3.1], [9.4, 1.8],
  [9.42, 1.45], [9.76, 2.4], [9.91, 1.85], [10.08, 1.65], [10.5, 2.0], [10.65, 1.8], [10.72, 2.85],
  [10.77, 2.1], [10.93, 1.95], [11.05, 1.6], [11.13, 2.8], [11.15, 1.95], [11.27, 1.55], [11.38, 2.25],
];

// lipids circled in red: [retention time, -log10 p]
const bmiSignificant = [
  [1.035, 4.91], [1.085, 3.58], [1.17, 9.78], [1.19, 5.37], [1.2, 3.34], [1.42, 5.87], [1.51, 4.96],
  [1.5, 4.06], [1.6, 4.32], [2.64, 3.65], [2.72, 3.24], [2.9, 3.27], [3.52, 3.29], [4.19, 4.25],
  [4.37, 3.23], [5.23, 4.82], [5.23, 3.17], [5.25, 3.22], [5.28, 3.32], [5.44, 3.23], [6.51, 3.46],
  [7.16, 4.68], [8.89, 3.2], [8.93, 3.56], [9.42, 3.66],
];
const wcSignificant = [
  [1.165, 7.69], [1.41, 5.5], [1.5, 4.53], [1.9, 4.38], [1.02, 3.91], [0.98, 3.54], [1.08, 3.23],
  [1.21, 3.1], [1.59, 3.64], [3.51, 3.37], [4.17, 3.54], [5.21, 3.82], [5.42, 3.87], [5.89, 4.11],
  [6.25, 3.23], [6.49, 3.74], [7.15, 6.0], [7.01, 3.21], [7.31, 3.64], [7.46, 3.02], [7.59, 3.74],
  [8.6, 3.89], [8.59, 2.99], [8.83, 3.91], [8.91, 4.51], [8.89, 3.5], [9.0, 3.57], [9.13, 3.38],
  [9.41, 4.63], [10.08, 3.32], [10.14, 3.71], [10.14, 3.13], [10.32, 3.78], [10.93, 3.34], [11.09, 4.11],
];
const leptinSignificant = [
  [1.17, 7.55], [1.42, 5.63], [1.51, 4.74], [1.09, 4.66], [1.03, 4.41], [0.99, 4.25], [1.42, 4.31],
  [1.22, 3.59], [1.92, 3.75], [5.44, 3.88], [5.9, 3.75], [7.16, 4.16], [7.32, 3.32], [8.61, 3.26],
  [8.9, 3.63], [8.93, 5.79], [9.02, 4.21], [9.66, 3.3], [10.33, 3.94], [10.54, 3.34],
];
const adiponectinSignificant = [
  [1.175, 6.96], [1.42, 5.66], [1.51, 4.98], [1.04, 4.01], [1.22, 3.93], [1.16, 3.61], [1.22, 3.26],
  [1.43, 3.68], [1.5, 3.68], [4.19, 5.25], [4.99, 3.7], [5.23, 4.2], [5.22, 3.5], [5.23, 3.45],
  [6.5, 4.36], [7.16, 5.72], [7.47, 3.22], [8.44, 3.49], [8.61, 4.42], [8.61, 3.76], [8.61, 3.38],
  [8.61, 3.3],
];
const cPeptideSignificant = [
  [1.17, 3.87], [1.42, 3.99], [7.15, 3.61], [7.95, 4.3], [8.44, 4.27], [8.61, 4.27], [8.61, 3.92],
  [8.92, 3.56], [9.66, 4.99], [10.07, 5.05], [10.09, 5.0],
];

const lowByPanel = [bmiLow, wcLow, leptinLow, adiponectinLow, cPeptideLow];
const raisedByPanel = [bmiRaised, wcRaised, leptinRaised, adiponectinRaised, cPeptideRaised];
const significantByPanel = [bmiSignificant, wcSignificant, leptinSignificant, adiponectinSignificant, cPeptideSignificant];

// ---------- LAYOUT / STYLE ----------
const FONT = '"Liberation Serif", "Times New Roman", Times, serif';
const X_MIN = 0.08;
const X_MAX = 11.6;
const GRID_LEFT = 77;
const GRID_WIDTH = 756;
const LAYOUT = [
  { top: 41, height: 168, yMin: -0.5, yMax: 11.52, labelMargin: 29, nameGap: 51, yNameSize: 14, titleY: 19, letterY: 21 },
  { top: 342, height: 167, yMin: -0.35, yMax: 9.36, labelMargin: 10, nameGap: 29, yNameSize: 13, titleY: 321, letterY: 325 },
  { top: 645, height: 167, yMin: -0.38, yMax: 9.36, labelMargin: 10, nameGap: 28, yNameSize: 13, titleY: 623, letterY: 626 },
  { top: 947, height: 167, yMin: -0.37, yMax: 9.35, labelMargin: 10, nameGap: 28, yNameSize: 13, titleY: 925, letterY: 928 },
  { top: 1245, height: 167, yMin: -0.31, yMax: 8.36, labelMargin: 29, nameGap: 53, yNameSize: 13, titleY: 1223, letterY: 1226 },
];
const BLUE = "#c9ddf8";
const YELLOW = "#fcf6d8";
const GRAY = "#7c7c7c";
const INK = "#222222";
const FRAME = "#3a3a3a";

function buildOption() {
  const grid: any[] = [];
  const xAxis: any[] = [];
  const yAxis: any[] = [];
  const series: any[] = [];
  const graphic: any[] = [];

  LAYOUT.forEach((l, i) => {
    grid.push({
      left: GRID_LEFT, width: GRID_WIDTH, top: l.top, height: l.height,
      show: true, z: 10, backgroundColor: "transparent", borderColor: FRAME, borderWidth: 1.2,
    });
    xAxis.push({
      gridIndex: i, type: "value", min: X_MIN, max: X_MAX,
      name: "Retention Time (min)", nameLocation: "middle", nameGap: l.nameGap,
      nameTextStyle: { fontFamily: FONT, fontSize: 13, color: INK },
      axisLine: { show: false }, splitLine: { show: false },
      axisTick: { show: true, customValues: xTickValues, length: 11, lineStyle: { color: FRAME, width: 1.2 } },
      axisLabel: { customValues: xTickValues, margin: l.labelMargin, fontFamily: FONT, fontSize: 12.5, color: INK },
    });
    yAxis.push({
      gridIndex: i, type: "value", min: l.yMin, max: l.yMax,
      name: "{n|-Log}{s|10}{n|(p-value)}", nameLocation: "middle", nameGap: 45, nameRotate: 90,
      nameTextStyle: {
        rich: {
          n: { fontFamily: FONT, fontSize: l.yNameSize, color: INK, lineHeight: 18 },
          s: { fontFamily: FONT, fontSize: 9, color: INK, lineHeight: 10, verticalAlign: "bottom" },
        },
      },
      axisLine: { show: false }, splitLine: { show: false },
      axisTick: { show: true, customValues: yTickSets[i], length: 10, lineStyle: { color: FRAME, width: 1.2 } },
      axisLabel: { customValues: yTickSets[i], rotate: 90, margin: 22, fontFamily: FONT, fontSize: 12.5, color: INK },
    });

    const low = lowByPanel[i];
    const grayData = retentionTimeLow
      .map((x, k) => [x, low[k]])
      .filter((d) => d[1] !== undefined)
      .concat(raisedByPanel[i]);

    series.push({
      type: "scatter", xAxisIndex: i, yAxisIndex: i, z: 3, silent: true,
      symbol: "circle", symbolSize: 5, itemStyle: { color: GRAY },
      emphasis: { disabled: true },
      data: grayData,
      markArea: {
        silent: true,
        data: [
          [
            {
              xAxis: lysoRange[0], itemStyle: { color: BLUE, opacity: 1, borderWidth: 0 },
              label: {
                show: true, position: "insideTop", distance: 3,
                formatter: "Lysophospholipids\n(PC, PE, PI, PG, PA)",
                fontFamily: FONT, fontSize: 7, lineHeight: 9, color: "#3c4660", align: "center",
              },
            },
            { xAxis: lysoRange[1] },
          ],
          [
            {
              xAxis: phosphoRange[0], itemStyle: { color: YELLOW, opacity: 1, borderWidth: 0 },
              label: {
                show: true, position: ["39.5%", 3],
                formatter: "Phospholipids and Sphingolipids\n(PC, PE, PI, PG, PA, SM, Cer)",
                fontFamily: FONT, fontSize: 7, lineHeight: 9, color: "#4a4a40", align: "center",
              },
            },
            { xAxis: phosphoRange[1] },
          ],
        ],
      },
      markLine: {
        silent: true, symbol: ["none", "none"], label: { show: false },
        data: [
          { yAxis: -Math.log10(pValueThreshold), lineStyle: { type: "solid", color: "#333", width: 1.2 } },
          { yAxis: -Math.log10(bonferroniThreshold), lineStyle: { type: [2, 3], color: "#444", width: 1.4 } },
        ],
      },
    });
    series.push({
      type: "scatter", xAxisIndex: i, yAxisIndex: i, z: 4, silent: true,
      symbol: "circle", symbolSize: 12, emphasis: { disabled: true },
      itemStyle: { color: "rgba(238,150,140,0.55)", borderColor: "#d8362b", borderWidth: 1.5 },
      data: significantByPanel[i],
    });
    series.push({
      type: "scatter", xAxisIndex: i, yAxisIndex: i, z: 5, silent: true,
      symbol: "circle", symbolSize: 5, emphasis: { disabled: true },
      itemStyle: { color: GRAY },
      data: significantByPanel[i],
    });

    // panel letter and title
    graphic.push({
      type: "text", x: 36, y: l.letterY, z: 20,
      style: { text: panelLetters[i], fontFamily: FONT, fontSize: 22, fontWeight: "bold", fill: "#111", align: "center", verticalAlign: "middle" },
    });
    graphic.push({
      type: "text", x: GRID_LEFT + GRID_WIDTH / 2, y: l.titleY, z: 20,
      style: { text: panelTitles[i], fontFamily: FONT, fontSize: 22, fontWeight: "bold", fill: "#111", align: "center", verticalAlign: "middle" },
    });
    // legend box (top right of each panel)
    const lx = 695;
    const ly = l.top + 4;
    const legendFont = { fontFamily: FONT, fontSize: 10, fill: "#333", verticalAlign: "middle" };
    graphic.push(
      { type: "rect", z: 30, shape: { x: lx, y: ly, width: 120, height: 50 }, style: { fill: "#fff", stroke: FRAME, lineWidth: 1.2 } },
      { type: "line", z: 31, shape: { x1: lx + 8, y1: ly + 12, x2: lx + 20, y2: ly + 12 }, style: { stroke: "#222", lineWidth: 1.5 } },
      { type: "line", z: 31, shape: { x1: lx + 8, y1: ly + 25, x2: lx + 21, y2: ly + 25 }, style: { stroke: "#333", lineWidth: 1.4, lineDash: [2, 3] } },
      { type: "circle", z: 31, shape: { cx: lx + 14, cy: ly + 37, r: 2.3 }, style: { fill: GRAY } },
      { type: "text", z: 31, x: lx + 30, y: ly + 12, style: { ...legendFont, text: "p-value <0.05" } },
      { type: "text", z: 31, x: lx + 30, y: ly + 25, style: { ...legendFont, text: "Bonferroni 2.86e-05" } },
      { type: "text", z: 31, x: lx + 30, y: ly + 37, style: { ...legendFont, text: "Lipid" } },
    );
  });

  return {
    animation: false,
    backgroundColor: "#ffffff",
    textStyle: { fontFamily: FONT },
    grid, xAxis, yAxis, series, graphic,
  };
}

export default function App() {
  const ref = useRef<HTMLDivElement>(null);
  useEffect(() => {
    if (!ref.current) return;
    const chart = echarts.init(ref.current, null, { renderer: "svg" });
    chart.setOption(buildOption() as any);
    return () => chart.dispose();
  }, []);
  return (
    <div
      ref={ref}
      style={{ position: "absolute", left: 0, top: 0, width: 823, height: 1479, background: "#fff" }}
    />
  );
}
